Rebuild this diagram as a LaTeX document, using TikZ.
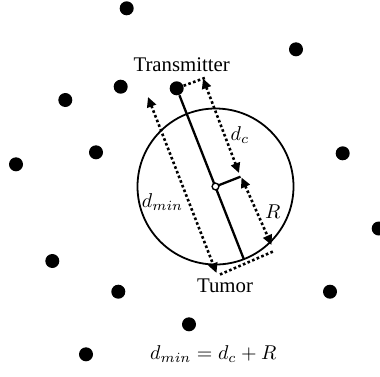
\documentclass[tikz,border=0pt]{standalone}
\usepackage{fontspec}
\setmainfont{Liberation Serif}
\usepackage{tikz}
\usetikzlibrary{arrows.meta, calc}

\begin{document}
\begin{tikzpicture}[
        x=0.5pt, y=-0.5pt,
        font=\fontsize{10.4}{12}\selectfont,
        dot/.style={circle, fill=black, inner sep=0pt, minimum size=7pt},
        hub/.style={circle, draw, fill=white, inner sep=0pt, minimum size=3.4pt, line width=0.7pt},
        dim/.style={line width=1.3pt, dash pattern=on 1.3pt off 1.2pt},
        dimarrow/.style={dim, {Triangle[length=5pt, width=4.6pt]}-{Triangle[length=5pt, width=4.6pt]}},
        lbl/.style={inner sep=1pt}
    ]
    \useasboundingbox (0,0) rectangle (380,376);

    % Scattered nodes
    \foreach \i/\p in {1/{(126.7,8.3)}, 2/{(296,49.3)}, 3/{(120.7,86.7)}, 4/{(65.3,100)},
                       5/{(96,152.3)}, 6/{(16,164.3)}, 7/{(342.7,153.3)}, 8/{(378.7,228.5)},
                       9/{(52.3,261)}, 10/{(118.3,291.7)}, 11/{(330,291.7)}, 12/{(189,324.3)},
                       13/{(86,354.3)}} {
        \node[dot] (p\i) at \p {};
    }

    % Transmitter, tumour region
    \node[dot] (tx) at (176.7,88.3) {};
    \coordinate (ctr) at (215.5,186.5);
    \coordinate (tum) at (243.8,259.1);
    \coordinate (rad) at (240.5,176.7);
    \draw[line width=0.9pt] (ctr) circle[radius=39pt];
    \draw[line width=1.15pt] (tx) -- (tum);
    \draw[line width=1.15pt] (ctr) -- (rad);
    \node[hub] (hub) at (ctr) {};

    % Dimension lines
    \coordinate (dcA) at (203,78.5);
    \coordinate (dcB) at (239,173);
    \coordinate (rA) at (241.5,177.5);
    \coordinate (rB) at (271.5,245);
    \coordinate (dmA) at (148,97);
    \coordinate (dmB) at (216.5,273);
    \coordinate (txX) at (206,77.5);
    \coordinate (tmL) at (220,274.5);
    \coordinate (tmR) at (273,251.5);
    \draw[dim] (tx) -- (txX);
    \draw[dim] (tmL) -- (tmR);
    \draw[dimarrow] (dcA) -- (dcB);
    \draw[dimarrow] (rA) -- (rB);
    \draw[dimarrow] (dmA) -- (dmB);

    % Labels
    \node[lbl] (txlabel) at (181.7,64.3) {Transmitter};
    \node[lbl] (tumlabel) at (225,286) {Tumor};
    \node[lbl] (dclabel) at (240,135) {$d_c$};
    \node[lbl] (dmlabel) at (162.5,201.7) {$d_{min}$};
    \node[lbl] (rlabel) at (272.7,211.7) {$R$};
    \node[lbl] (eq) at (213.3,354.3) {$d_{min} = d_c + R$};

\end{tikzpicture}
\end{document}
